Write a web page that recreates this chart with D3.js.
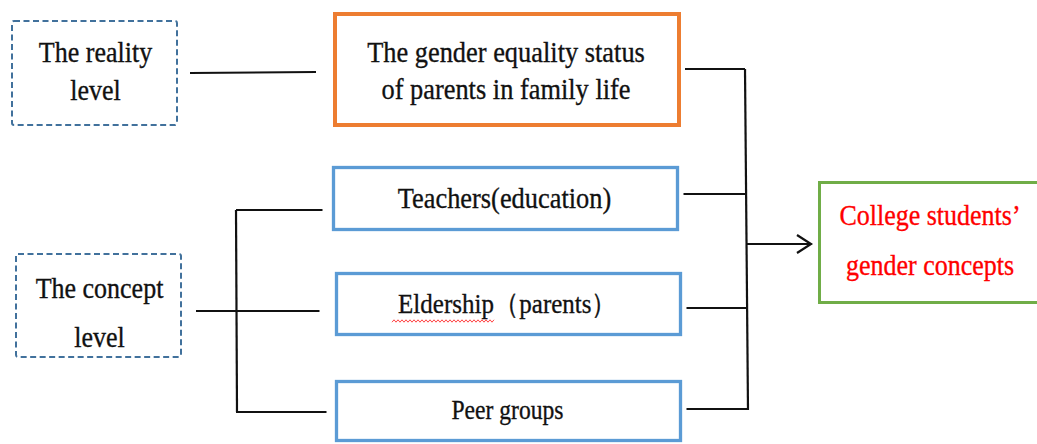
<!DOCTYPE html>
<html>
<head>
<meta charset="utf-8">
<script src="https://cdn.jsdelivr.net/npm/d3@7"></script>
<style>
  html, body { margin: 0; padding: 0; background: #fff; }
  svg { display: block; }
</style>
</head>
<body>
<div id="chart"></div>
<script>
// text content of the diagram
const levelLabels = [['The reality', 'level'], ['The concept', 'level']];
const sourceLabels = [
  ['The gender equality status', 'of parents in family life'],
  ['Teachers(education)'],
  ['Eldership（parents）'],
  ['Peer groups']
];
const outcomeLabel = ['College students’', 'gender concepts'];

// which level each source belongs to
const sourceLevel = [0, 1, 1, 1];

const width = 1037;
const height = 444;

// layout (pixel geometry, kept apart from the labels)
const levelBoxes = [
  { x: 12, y: 21, w: 165, h: 104, base: [62, 100], size: 26 },
  { x: 16, y: 254, w: 165, h: 103, base: [298, 347], size: 26 }
];
const sourceBoxes = [
  { x: 335, y: 14, w: 344, h: 111, color: '#ED7D31', sw: 4, base: [62, 99], size: 26.4, join: 69, left: 72 },
  { x: 333.5, y: 167.5, w: 344, h: 62, color: '#5B9BD5', sw: 3.3, base: [208], size: 26.4, join: 194, left: 210 },
  { x: 336.5, y: 273.5, w: 344, h: 61, color: '#5B9BD5', sw: 3.3, base: [313], size: 25, join: 308, left: 311 },
  { x: 336.5, y: 381.5, w: 344, h: 59, color: '#5B9BD5', sw: 3.3, base: [419], size: 23.6, join: 409, left: 412 }
];
const outcomeBox = { x: 819.5, y: 182.5, w: 240, h: 120, base: [225, 275], size: 26 };

const busX = d3.scaleLinear().domain([69, 410]).range([745, 748]);
const arrowY = 244;

const svg = d3.select('#chart')
  .append('svg')
  .attr('width', width)
  .attr('height', height)
  .attr('viewBox', [0, 0, width, height]);

const font = "'Liberation Serif', 'Times New Roman', serif";

// text looks a bit taller than Liberation Serif at the same width
const stretch = 1.12;

function drawLines (g, lines, baseList, cx, size, fill) {
  g.append('g')
    .selectAll('text')
    .data(lines)
    .join('text')
    .style('font-family', font)
    .style('font-size', size + 'px')
    .attr('fill', fill)
    .attr('stroke', fill)
    .attr('stroke-width', 0.3)
    .attr('text-anchor', 'middle')
    .attr('transform', (d, i) => `translate(${cx},${baseList[i]}) scale(1,${stretch})`)
    .text(d => d);
}

// level boxes (dashed)
const levels = svg.append('g')
  .selectAll('g')
  .data(levelLabels)
  .join('g');

levels.append('rect')
  .attr('x', (d, i) => levelBoxes[i].x)
  .attr('y', (d, i) => levelBoxes[i].y)
  .attr('width', (d, i) => levelBoxes[i].w)
  .attr('height', (d, i) => levelBoxes[i].h)
  .attr('rx', 2)
  .attr('fill', 'none')
  .attr('stroke', '#41719C')
  .attr('stroke-width', 2)
  .attr('stroke-dasharray', '6 3.5');

levels.each(function (d, i) {
  const b = levelBoxes[i];
  drawLines(d3.select(this), d, b.base, b.x + b.w / 2 + 1, b.size, '#111');
});

// source boxes
const sources = svg.append('g')
  .selectAll('g')
  .data(sourceLabels)
  .join('g');

sources.append('rect')
  .attr('x', (d, i) => sourceBoxes[i].x)
  .attr('y', (d, i) => sourceBoxes[i].y)
  .attr('width', (d, i) => sourceBoxes[i].w)
  .attr('height', (d, i) => sourceBoxes[i].h)
  .attr('fill', 'none')
  .attr('stroke', (d, i) => sourceBoxes[i].color)
  .attr('stroke-width', (d, i) => sourceBoxes[i].sw);

sources.each(function (d, i) {
  const b = sourceBoxes[i];
  drawLines(d3.select(this), d, b.base, b.x + b.w / 2 - 1, b.size, '#111');
});

// red wavy spell-check underline under "Eldership"
const wave = d3.range(392, 495, 2).map((x, i) => [x, 321 + (i % 2 ? -1.2 : 1.2)]);
svg.append('path')
  .attr('d', d3.line()(wave))
  .attr('fill', 'none')
  .attr('stroke', '#FF3030')
  .attr('stroke-width', 0.9);

// outcome box
svg.append('rect')
  .attr('x', outcomeBox.x)
  .attr('y', outcomeBox.y)
  .attr('width', outcomeBox.w)
  .attr('height', outcomeBox.h)
  .attr('fill', 'none')
  .attr('stroke', '#70AD47')
  .attr('stroke-width', 3);

drawLines(svg.append('g'), outcomeLabel, outcomeBox.base, 930, outcomeBox.size, '#FF0000');

// connectors
const lines = svg.append('g')
  .attr('stroke', '#111')
  .attr('stroke-width', 2.2)
  .attr('fill', 'none');

// reality level -> family status
lines.append('line')
  .attr('x1', levelBoxes[0].x + levelBoxes[0].w + 13)
  .attr('y1', 73)
  .attr('x2', 316)
  .attr('y2', 72);

// concept level bracket
const conceptRows = sourceBoxes.filter((b, i) => sourceLevel[i] === 1);
const bracketX = 236;
lines.append('line')
  .attr('x1', bracketX)
  .attr('y1', conceptRows[0].left)
  .attr('x2', bracketX + 1)
  .attr('y2', conceptRows[conceptRows.length - 1].left);

lines.selectAll('.tick')
  .data(conceptRows)
  .join('line')
  .attr('class', 'tick')
  .attr('x1', (d, i) => i === 1 ? levelBoxes[1].x + levelBoxes[1].w + 15 : bracketX)
  .attr('y1', d => d.left)
  .attr('x2', (d, i) => d.x - [11, 17, 10][i])
  .attr('y2', d => d.left);

// right bus
lines.append('line')
  .attr('x1', busX(69))
  .attr('y1', 69)
  .attr('x2', busX(410))
  .attr('y2', 410);

lines.selectAll('.join')
  .data(sourceBoxes)
  .join('line')
  .attr('class', 'join')
  .attr('x1', d => d.x + d.w + 6)
  .attr('y1', d => d.join)
  .attr('x2', d => busX(d.join))
  .attr('y2', d => d.join);

// arrow to outcome
lines.append('line')
  .attr('x1', busX(arrowY))
  .attr('y1', arrowY)
  .attr('x2', outcomeBox.x - 8)
  .attr('y2', arrowY);

lines.append('path')
  .attr('d', d3.line()([[797, arrowY - 9], [811, arrowY], [797, arrowY + 9]]));
</script>
</body>
</html>
